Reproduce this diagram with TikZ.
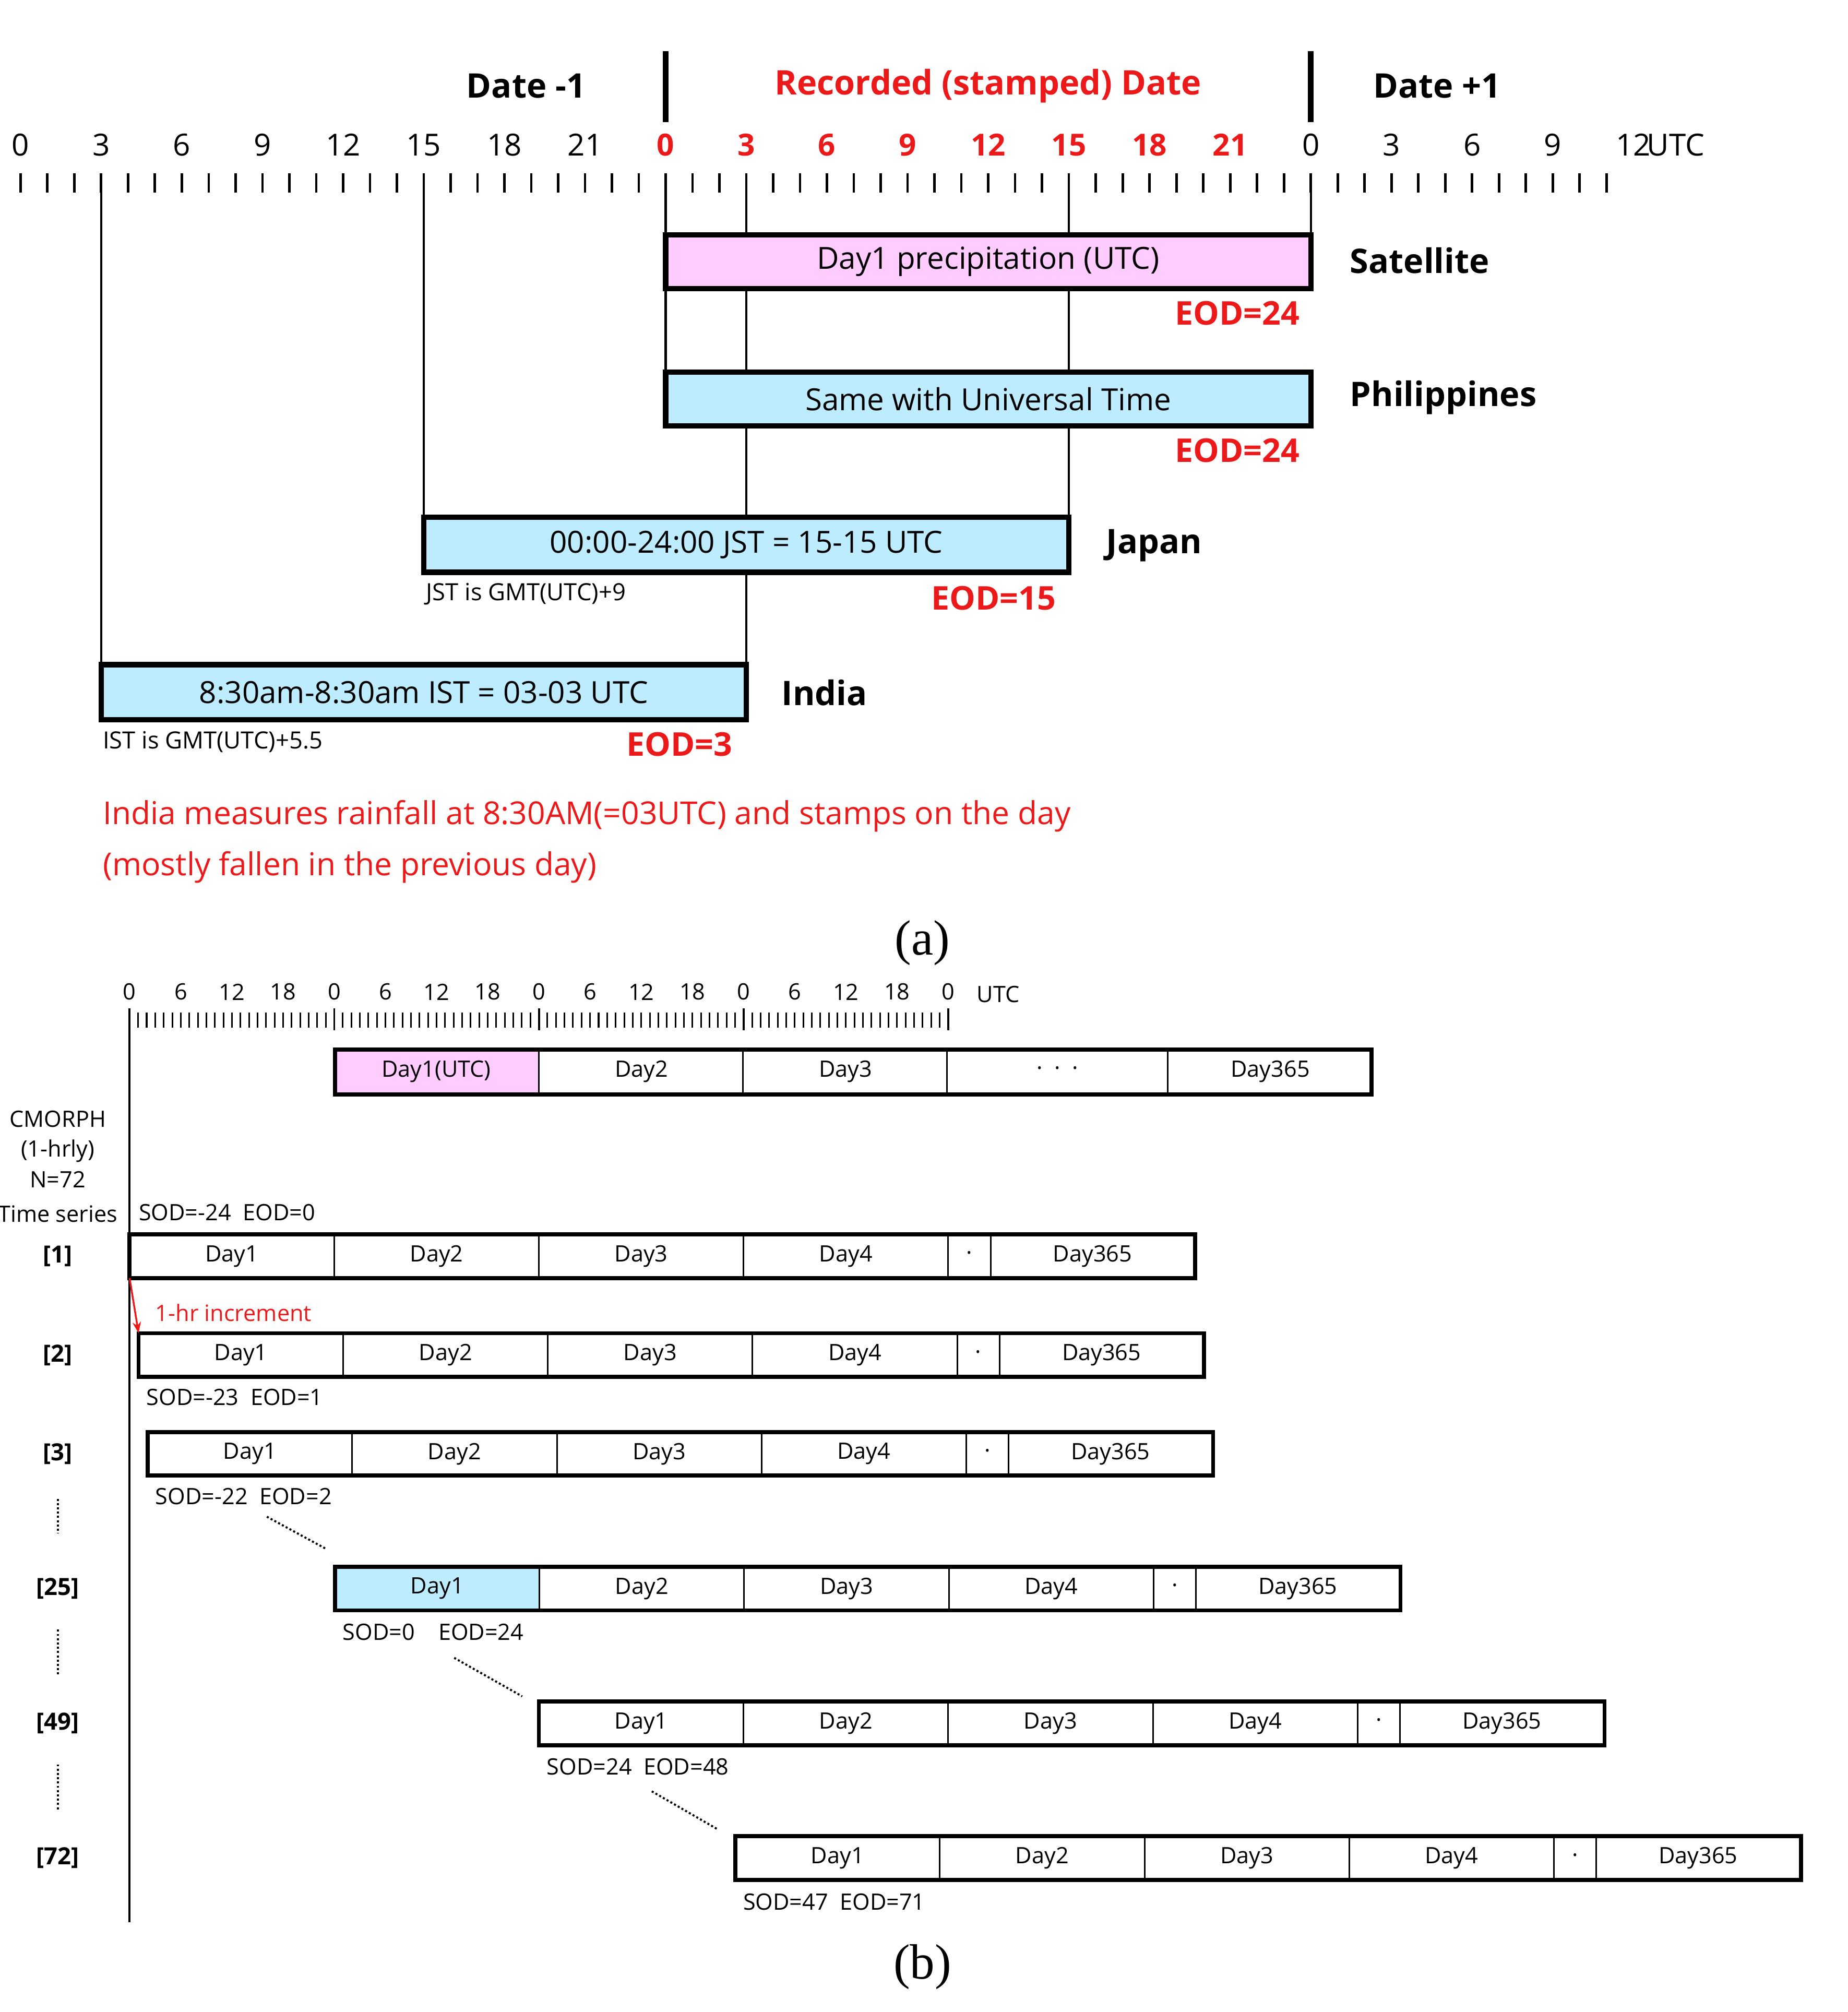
\documentclass[tikz,border=0pt]{standalone}
\usepackage{fontspec}
\setmainfont{Liberation Serif}
\newfontfamily\sans{Open Sans}
\usetikzlibrary{fit,arrows.meta}
\definecolor{pinkf}{RGB}{255,204,255}
\definecolor{bluef}{RGB}{190,236,255}
\definecolor{redt}{RGB}{235,25,25}
\tikzset{
 tick/.style={line width=1.1pt},
 vl/.style={line width=1pt},
 abox/.style={draw, line width=2.4pt, inner sep=0pt},
 atxt/.style={font=\sans\fontsize{13.5}{16}\selectfont},
 lab/.style={font=\sans\bfseries\fontsize{15}{18}\selectfont},
 hr/.style={font=\sans\fontsize{13.5}{16}\selectfont},
 eod/.style={font=\sans\bfseries\fontsize{14.5}{17}\selectfont, text=redt, anchor=east},
 note/.style={font=\sans\fontsize{10.5}{13}\selectfont, anchor=west},
 rnote/.style={font=\sans\fontsize{14}{17}\selectfont, text=redt, anchor=west},
 btxt/.style={font=\sans\fontsize{10}{12}\selectfont},
 sod/.style={font=\sans\fontsize{10}{12}\selectfont, anchor=west},
 rl/.style={font=\sans\bfseries\fontsize{10.5}{13}\selectfont},
 outer/.style={line width=1.8pt},
 cell/.style={line width=0.7pt},
 dots/.style={densely dotted, line width=0.9pt},
 captxt/.style={font=\fontsize{22}{26}\selectfont}
}
\newcommand\trow[5]{%
 \path[fill=#4] (#2,{#3-17}) rectangle ({#2+159.5},{#3+17});
 \foreach \k in {1,2,3,4} {\node[btxt] at ({#2+159.5*(\k-0.5)},#3) {Day\k};
   \draw[cell] ({#2+159.5*\k},{#3-17}) -- ({#2+159.5*\k},{#3+17});}
 \draw[cell] ({#2+671},{#3-17}) -- ({#2+671},{#3+17});
 \node[btxt] at ({#2+654.5},{#3}) {·};
 \node[btxt] at ({#2+750.5},#3) {Day365};
 \draw[outer] (#2,{#3-17}) rectangle ({#2+830.5},{#3+17});
 \coordinate (#1nw) at (#2,{#3-17});
 \coordinate (#1sw) at (#2,{#3+17});
 \node[rl] (#1lab) at (45,#3) {#5};
}
\begin{document}
\begin{tikzpicture}[x=0.02cm,y=-0.02cm, font=\sans,
 declare function={hx(\h)=16+20.95*\h; bx(\h)=101+6.646*\h;}]
\useasboundingbox (0,0) rectangle (1440,1568);
% ---------- (a) ----------
\node[lab] (d1) at (410,67) {Date -1};
\node[lab, text=redt] (rd) at (770,67) {Recorded (stamped) Date};
\node[lab] (d2) at (1120,67) {Date +1};
\draw[line width=2.6pt] ({hx(24)},40) -- ({hx(24)},95);
\draw[line width=2.6pt] ({hx(48)},40) -- ({hx(48)},95);
\foreach \i in {0,...,20} {
  \pgfmathtruncatemacro\hh{3*\i}
  \pgfmathtruncatemacro\ll{mod(\hh,24)}
  \ifnum\hh<24 \node[hr] at ({hx(\hh)},113) {\ll};
  \else\ifnum\hh<48 \node[hr, text=redt, font=\sans\bfseries\fontsize{13.5}{16}\selectfont] at ({hx(\hh)},113) {\ll};
  \else \node[hr] at ({hx(\hh)},113) {\ll}; \fi\fi
}
\node[hr] at (1306,113) {UTC};
\foreach \h in {0,...,59} \draw[tick] ({hx(\h)},135) -- ({hx(\h)},150);
% box positions
\coordinate (satA) at ({hx(24)},183); \coordinate (satB) at ({hx(48)},225);
\coordinate (phiA) at ({hx(24)},290); \coordinate (phiB) at ({hx(48)},332);
\coordinate (japA) at ({hx(15)},403); \coordinate (japB) at ({hx(39)},446);
\coordinate (indA) at ({hx(3)},518);  \coordinate (indB) at ({hx(27)},561);
% vertical lines (behind boxes)
\draw[vl] ({hx(3)},135) -- ({hx(3)},518);
\draw[vl] ({hx(15)},135) -- ({hx(15)},403);
\draw[vl] ({hx(24)},135) -- ({hx(24)},290);
\draw[vl] ({hx(27)},135) -- ({hx(27)},518);
\draw[vl] ({hx(39)},135) -- ({hx(39)},403);
\draw[vl] ({hx(48)},135) -- ({hx(48)},183);
% boxes
\node[abox, fill=pinkf, fit=(satA)(satB)] (sat) {};
\node[atxt] at (sat.center) {Day1 precipitation (UTC)};
\node[abox, fill=bluef, fit=(phiA)(phiB)] (phi) {};
\node[atxt] at (phi.center) {Same with Universal Time};
\node[abox, fill=bluef, fit=(japA)(japB)] (jap) {};
\node[atxt] at (jap.center) {00:00-24:00 JST = 15-15 UTC};
\node[abox, fill=bluef, fit=(indA)(indB)] (ind) {};
\node[atxt] at (ind.center) {8:30am-8:30am IST = 03-03 UTC};
% labels
\node[lab, anchor=west] at (1046,203) {Satellite};
\node[lab, anchor=west] at (1046,310) {Philippines};
\node[lab, anchor=west] at (856,425) {Japan};
\node[lab, anchor=west] at (603,540) {India};
\node[eod] at (1019,244) {EOD=24};
\node[eod] at (1019,351) {EOD=24};
\node[eod] at (829,466) {EOD=15};
\node[eod] at (577,580) {EOD=3};
\node[note] at (326,463) {JST is GMT(UTC)+9};
\node[note] at (74,578) {IST is GMT(UTC)+5.5};
\node[rnote] at (74,636) {India measures rainfall at 8:30AM(=03UTC) and stamps on the day};
\node[rnote] at (74,676) {(mostly fallen in the previous day)};
\node[captxt] at (719,735) {(a)};
% ---------- (b) ----------
\foreach \d/\l in {0/0,1/6,2/12,3/18,4/0,5/6,6/12,7/18,8/0,9/6,10/12,11/18,12/0,13/6,14/12,15/18,16/0}
  \node[btxt] at ({bx(6*\d)},773) {\l};
\node[btxt] at (778,775) {UTC};
\foreach \h in {0,...,96} \draw[line width=0.7pt] ({bx(\h)},789) -- ({bx(\h)},801);
\foreach \h in {0,24,48,72,96} \draw[line width=0.9pt] ({bx(\h)},786) -- ({bx(\h)},803);
\draw[line width=0.9pt] (101,801) -- (101,1498);
% top row
\path[fill=pinkf] (261,818) rectangle (420,853);
\foreach \x in {420,579,738,910} \draw[cell] (\x,818) -- (\x,853);
\draw[outer] (261,818) rectangle (1069,853);
\node[btxt] at (340,835) {Day1(UTC)};
\node[btxt] at (500,835) {Day2};
\node[btxt] at (659,835) {Day3};
\node[btxt] at (824,835) {·\ \ ·\ \ ·};
\node[btxt] at (990,835) {Day365};
\node[btxt] at (45,872) {CMORPH};
\node[btxt] at (45,897) {(1-hrly)};
\node[btxt] at (45,919) {N=72};
\node[btxt] at (45,946) {Time series};
% rows
\trow{r1}{101}{979}{white}{[1]}
\trow{r2}{108}{1056}{white}{[2]}
\trow{r3}{115}{1133}{white}{[3]}
\trow{r25}{261}{1238}{bluef}{[25]}
\trow{r49}{420}{1343}{white}{[49]}
\trow{r72}{573}{1448}{white}{[72]}
\node[sod] at (102,945) {SOD=-24\ \ EOD=0};
\node[sod] at (108,1089) {SOD=-23\ \ EOD=1};
\node[sod] at (115,1166) {SOD=-22\ \ EOD=2};
\node[sod] at (261,1272) {SOD=0\ \ \ \ EOD=24};
\node[sod] at (420,1377) {SOD=24\ \ EOD=48};
\node[sod] at (573,1482) {SOD=47\ \ EOD=71};
\draw[redt, line width=0.8pt, -{Stealth[length=5pt]}] (r1sw) -- (r2nw);
\node[sod, text=redt] at (115,1023) {1-hr increment};
\draw[dots] (45,1168) -- (45,1195);
\draw[dots] (45,1270) -- (45,1305);
\draw[dots] (45,1375) -- (45,1410);
\draw[dots] (208,1182) -- (254,1207);
\draw[dots] (354,1292) -- (407,1322);
\draw[dots] (508,1396) -- (560,1426);
\node[captxt] at (719,1533) {(b)};
\end{tikzpicture}
\end{document}
